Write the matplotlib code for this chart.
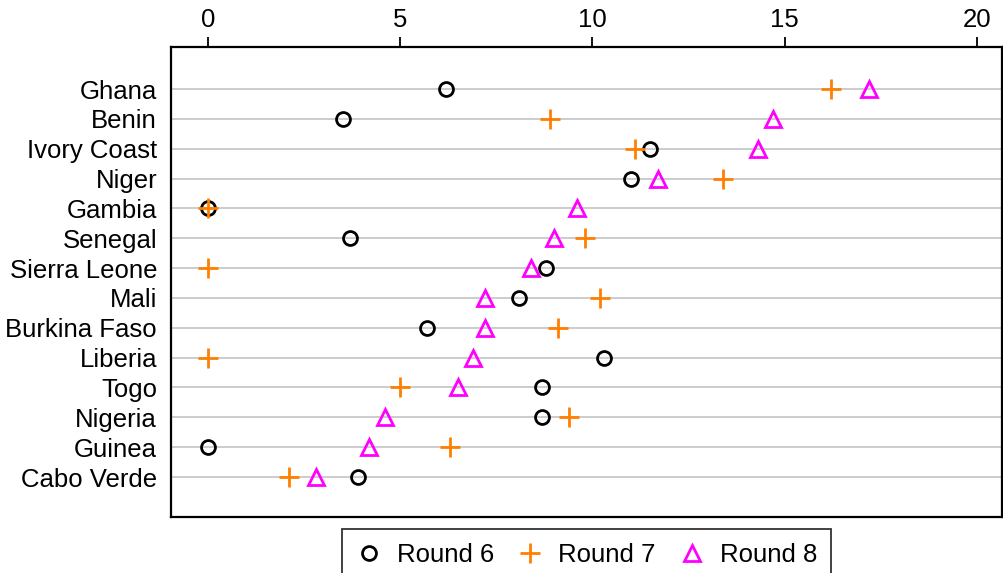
import numpy as np
import matplotlib
matplotlib.use("Agg")
import matplotlib.pyplot as plt

plt.rcParams['font.family'] = ['Liberation Sans', 'DejaVu Sans']

countries = ["Ghana", "Benin", "Ivory Coast", "Niger", "Gambia", "Senegal",
             "Sierra Leone", "Mali", "Burkina Faso", "Liberia", "Togo",
             "Nigeria", "Guinea", "Cabo Verde"]
round6 = [6.2, 3.5, 11.5, 11.0, 0.0, 3.7, 8.8, 8.1, 5.7, 10.3, 8.7, 8.7, 0.0, 3.9]
round7 = [16.2, 8.9, 11.1, 13.4, 0.0, 9.8, 0.0, 10.2, 9.1, 0.0, 5.0, 9.4, 6.3, 2.1]
round8 = [17.2, 14.7, 14.3, 11.7, 9.6, 9.0, 8.4, 7.2, 7.2, 6.9, 6.5, 4.6, 4.2, 2.8]
xticks = [0, 5, 10, 15, 20]

n = len(countries)
y = np.arange(n, 0, -1)

fig = plt.figure(figsize=(10.04, 5.73), dpi=100)
ax = fig.add_axes([171/1004, 1 - 517/573, (1002-171)/1004, (517-47)/573])

for yy in y:
    ax.axhline(yy, color='#c8c8c8', lw=1.3, zorder=0)

ax.plot(round6, y, ls='none', marker='o', ms=10, mfc='none', mec='black', mew=2, label='Round 6')
ax.plot(round7, y, ls='none', marker='+', ms=14, mec='#ff7f00', mew=2, label='Round 7')
ax.plot(round8, y, ls='none', marker='^', ms=11, mfc='none', mec='#ff00ff', mew=2, label='Round 8')

ax.set_xlim(-0.96, 20.65)
ax.set_ylim(-0.34, 15.41)
ax.set_yticks(y)
ax.set_yticklabels(countries, fontsize=18.5)
ax.tick_params(axis='y', length=0, pad=10)
ax.xaxis.tick_top()
ax.set_xticks(xticks)
ax.set_xticklabels([str(t) for t in xticks], fontsize=18.5)
ax.tick_params(axis='x', length=7, width=1.3, pad=4)
for s in ax.spines.values():
    s.set_linewidth(1.6)

leg = fig.legend(loc='upper center', bbox_to_anchor=(586.5/1004, 1 - 529/573), ncol=3,
                 fontsize=18.5, frameon=True, fancybox=False, edgecolor='black',
                 handlelength=1.0, columnspacing=0.9, handletextpad=0.6, borderpad=0.55,
                 borderaxespad=0)
leg.get_frame().set_linewidth(1.3)

fig.savefig('out.png', dpi=100)
